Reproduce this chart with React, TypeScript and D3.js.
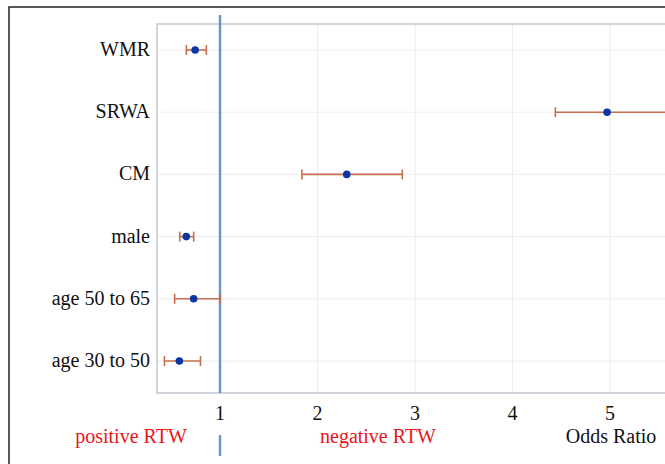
import React, { useEffect, useRef } from "react";
import * as d3 from "d3";

const factors = ["WMR", "SRWA", "CM", "male", "age 50 to 65", "age 30 to 50"];
const oddsRatio = [0.745, 4.97, 2.3, 0.654, 0.73, 0.583];
const ciLow = [0.655, 4.44, 1.84, 0.587, 0.535, 0.43];
const ciHigh = [0.86, 6.3, 2.87, 0.73, 1.0, 0.8];
const xTicks = [1, 2, 3, 4, 5];

function App() {
  const ref = useRef<SVGSVGElement>(null);

  useEffect(() => {
    document.body.style.margin = "0";
    const W = 665;
    const H = 464;
    const svg = d3.select(ref.current).attr("width", W).attr("height", H);
    svg.selectAll("*").remove();

    const font = "'Liberation Serif', 'Times New Roman', serif";
    const left = 157;
    const top = 24;
    const bottom = 393;

    // outer frame
    svg.append("rect")
      .attr("x", 9).attr("y", 7).attr("width", 700).attr("height", 500)
      .attr("fill", "white").attr("stroke", "#222").attr("stroke-width", 1.5);

    const x = d3.scaleLinear().domain([1, 5]).range([220, 610]);
    const y = d3.scalePoint().domain(factors).range([50, 361]);

    // grid
    svg.append("g").selectAll("line")
      .data(xTicks.slice(1))
      .enter().append("line")
      .attr("x1", (d) => x(d)).attr("x2", (d) => x(d))
      .attr("y1", top).attr("y2", bottom)
      .attr("stroke", "#ececf0").attr("stroke-width", 1);

    svg.append("g").selectAll("line")
      .data(factors)
      .enter().append("line")
      .attr("x1", left).attr("x2", W + 10)
      .attr("y1", (d) => y(d)!).attr("y2", (d) => y(d)!)
      .attr("stroke", "#f0ecec").attr("stroke-width", 1);

    // plot border
    svg.append("path")
      .attr("d", `M${W + 10},${top}H${left}V${bottom}H${W + 10}`)
      .attr("fill", "none").attr("stroke", "#c3c7cf").attr("stroke-width", 1.5);

    // y labels
    svg.append("g").selectAll("text")
      .data(factors)
      .enter().append("text")
      .attr("x", 150).attr("y", (d) => y(d)! + 6)
      .attr("text-anchor", "end")
      .style("font-family", font).style("font-size", "20px")
      .attr("fill", "#111")
      .text((d) => d);

    // x tick labels
    svg.append("g").selectAll("text")
      .data(xTicks)
      .enter().append("text")
      .attr("x", (d) => x(d)).attr("y", 420)
      .attr("text-anchor", "middle")
      .style("font-family", font).style("font-size", "20px")
      .attr("fill", "#111")
      .text((d) => d);

    // reference line at OR = 1
    svg.append("line")
      .attr("x1", x(1)).attr("x2", x(1)).attr("y1", 15).attr("y2", bottom)
      .attr("stroke", "#6b95d0").attr("stroke-width", 2.5);
    svg.append("line")
      .attr("x1", x(1)).attr("x2", x(1)).attr("y1", 435).attr("y2", 456)
      .attr("stroke", "#6b95d0").attr("stroke-width", 2.5);

    // error bars
    const rows = factors.map((f, i) => ({ f, or: oddsRatio[i], lo: ciLow[i], hi: ciHigh[i] }));
    const eb = svg.append("g").attr("stroke", "#c96d4c").attr("stroke-width", 1.6);
    rows.forEach((d) => {
      const yy = y(d.f)!;
      eb.append("line").attr("x1", x(d.lo)).attr("x2", x(d.hi)).attr("y1", yy).attr("y2", yy);
      eb.append("line").attr("x1", x(d.lo)).attr("x2", x(d.lo)).attr("y1", yy - 5).attr("y2", yy + 5);
      eb.append("line").attr("x1", x(d.hi)).attr("x2", x(d.hi)).attr("y1", yy - 5).attr("y2", yy + 5);
    });

    svg.append("g").selectAll("circle")
      .data(rows)
      .enter().append("circle")
      .attr("cx", (d) => x(d.or)).attr("cy", (d) => y(d.f)!)
      .attr("r", 3.8)
      .attr("fill", "#0a35a5");

    // bottom annotations
    const notes = [
      { t: "positive RTW", cx: 131, c: "#e8161b" },
      { t: "negative RTW", cx: 378, c: "#e8161b" },
      { t: "Odds Ratio", cx: 611, c: "#111" },
    ];
    svg.append("g").selectAll("text")
      .data(notes)
      .enter().append("text")
      .attr("x", (d) => d.cx).attr("y", 443)
      .attr("text-anchor", "middle")
      .style("font-family", font).style("font-size", "20px")
      .attr("fill", (d) => d.c)
      .text((d) => d.t);
  }, []);

  return <svg ref={ref} style={{ display: "block" }} />;
}

export default App;
